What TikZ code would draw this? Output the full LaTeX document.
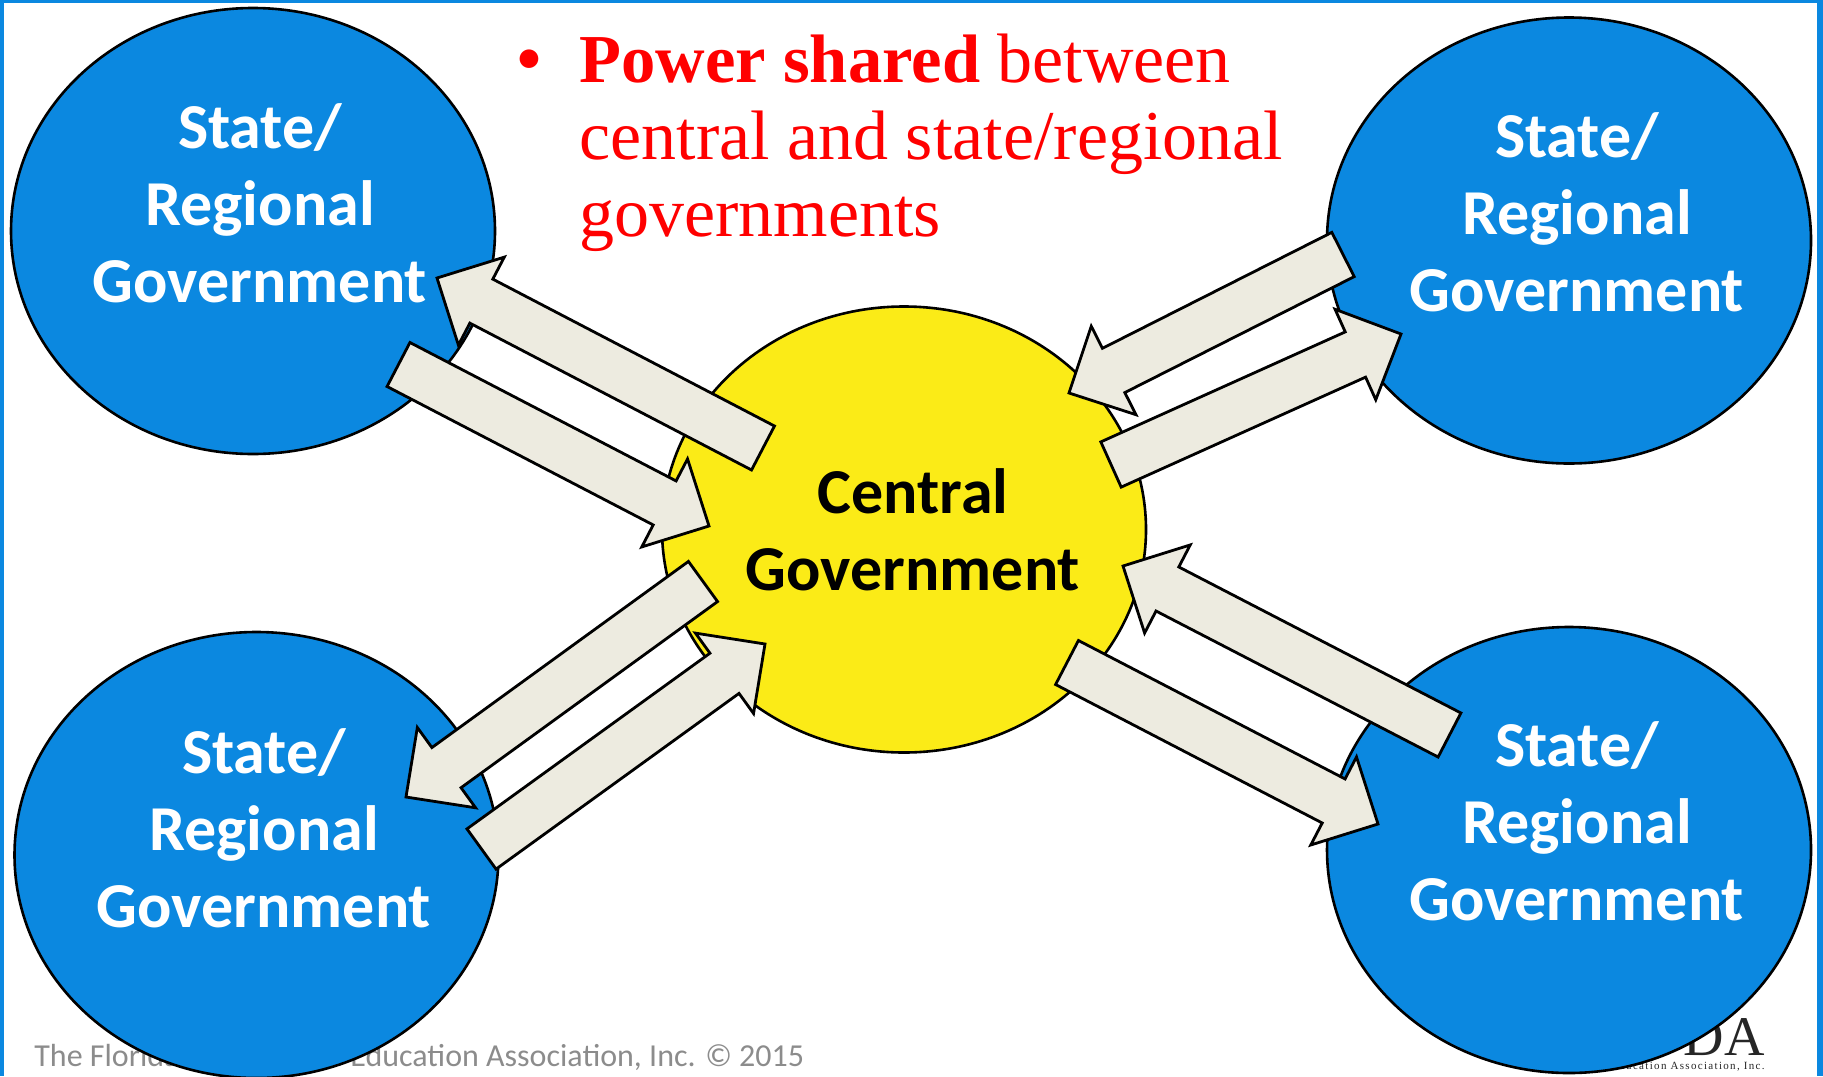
\documentclass[tikz,border=0pt]{standalone}
\usepackage{fontspec}
\setmainfont{Liberation Serif}
\setsansfont{Carlito}
\usetikzlibrary{calc,shapes.geometric}
\definecolor{statecol}{HTML}{0B88E0}
\definecolor{centralcol}{HTML}{FBEB17}
\definecolor{arrowcol}{HTML}{EDEBE0}
\definecolor{footcol}{HTML}{8C8C8C}
\definecolor{logocol}{HTML}{262626}

\begin{document}
\begin{tikzpicture}[x=.5pt,y=-.5pt]
	\tikzstyle{govt}=[ellipse, draw=black, line width=1.3pt, inner sep=0pt, minimum width=242pt, minimum height=223pt]
	\tikzstyle{state}=[govt, fill=statecol]
	\tikzstyle{central}=[govt, fill=centralcol]
	\tikzstyle{govtext}=[align=center, font=\sffamily\bfseries\fontsize{32}{38.5}\selectfont]
	\tikzstyle{foot}=[anchor=base west, inner sep=0pt, text=footcol, font=\sffamily\fontsize{16}{18}\selectfont]
	\tikzstyle{blockarrow}=[draw=black, fill=arrowcol, line width=1.4pt, to path={
		-- ($(\tikztostart)!12.4pt!90:(\tikztotarget)$)
		-- ($(\tikztotarget)!25pt!(\tikztostart)!12.4pt!90:(\tikztotarget)$)
		-- ($(\tikztotarget)!25pt!(\tikztostart)!24.8pt!90:(\tikztotarget)$)
		-- (\tikztotarget)
		-- ($(\tikztotarget)!25pt!(\tikztostart)!24.8pt!-90:(\tikztotarget)$)
		-- ($(\tikztotarget)!25pt!(\tikztostart)!12.4pt!-90:(\tikztotarget)$)
		-- ($(\tikztostart)!12.4pt!-90:(\tikztotarget)$)
		-- cycle}]

	\useasboundingbox (0,0) rectangle (1823,1076);
	\fill[statecol] (0,0) rectangle (1823,3);
	\fill[statecol] (0,0) rectangle (4,1076);
	\fill[statecol] (1817,0) rectangle (1823,1076);

	\node[foot] (footleft) at (34,1066) {The Florida};
	\node[foot] (footright) at (350,1066) {Education Association, Inc. © 2015};
	\node[anchor=base east, inner sep=0pt, text=logocol, font=\fontsize{28}{30}\selectfont] (logo) at (1765,1055) {DA};
	\node[anchor=base east, inner sep=0pt, text=logocol, font=\fontsize{5.5}{6}\selectfont\addfontfeature{LetterSpace=12}] (logosub) at (1765,1069) {Education Association, Inc.};

	\node[state] (nw) at (253,231) {};
	\node[state] (ne) at (1569,240.5) {};
	\node[state] (sw) at (256.5,855) {};
	\node[state] (se) at (1569,850) {};
	\node[central] (cg) at (904,529.5) {};

	\coordinate (nwa) at (763,448);
	\coordinate (nwb) at (437,278);
	\coordinate (nwc) at (398.5,364.5);
	\coordinate (nwd) at (709,526);
	\coordinate (nea) at (1343,254.5);
	\coordinate (neb) at (1069,393);
	\coordinate (nec) at (1111,464.5);
	\coordinate (ned) at (1401,334);
	\coordinate (sea) at (1449.5,735);
	\coordinate (seb) at (1123,566);
	\coordinate (sec) at (1067,662.5);
	\coordinate (sed) at (1378,824);
	\coordinate (swa) at (703,581.5);
	\coordinate (swb) at (406,797);
	\coordinate (swc) at (481.5,849);
	\coordinate (swd) at (765,644);

	\foreach \from/\to in {nwa/nwb,nwc/nwd,nea/neb,nec/ned,sea/seb,sec/sed,swa/swb,swc/swd}
		\draw[blockarrow] (\from) to (\to);

	\node[govtext, text=white] (nwtext) at (260,203) {State/\\Regional\\Government};
	\node[govtext, text=white] (netext) at (1577,212) {State/\\Regional\\Government};
	\node[govtext, text=white] (swtext) at (264,828) {State/\\Regional\\Government};
	\node[govtext, text=white] (setext) at (1577,821) {State/\\Regional\\Government};
	\node[govtext, text=black] (cgtext) at (913,530) {Central\\Government};

	\node[text=red, inner sep=0pt, font=\sffamily\bfseries\fontsize{22}{26}\selectfont] (bullet) at (529,61) {•};
	\node[anchor=north west, align=left, inner sep=0pt, text=red, font=\fontsize{35}{38.5}\selectfont] (claim) at (579,34) {\textbf{\fontsize{34.3}{38.5}\selectfont Power shared} between\\central and state/regional\\governments};
\end{tikzpicture}
\end{document}
